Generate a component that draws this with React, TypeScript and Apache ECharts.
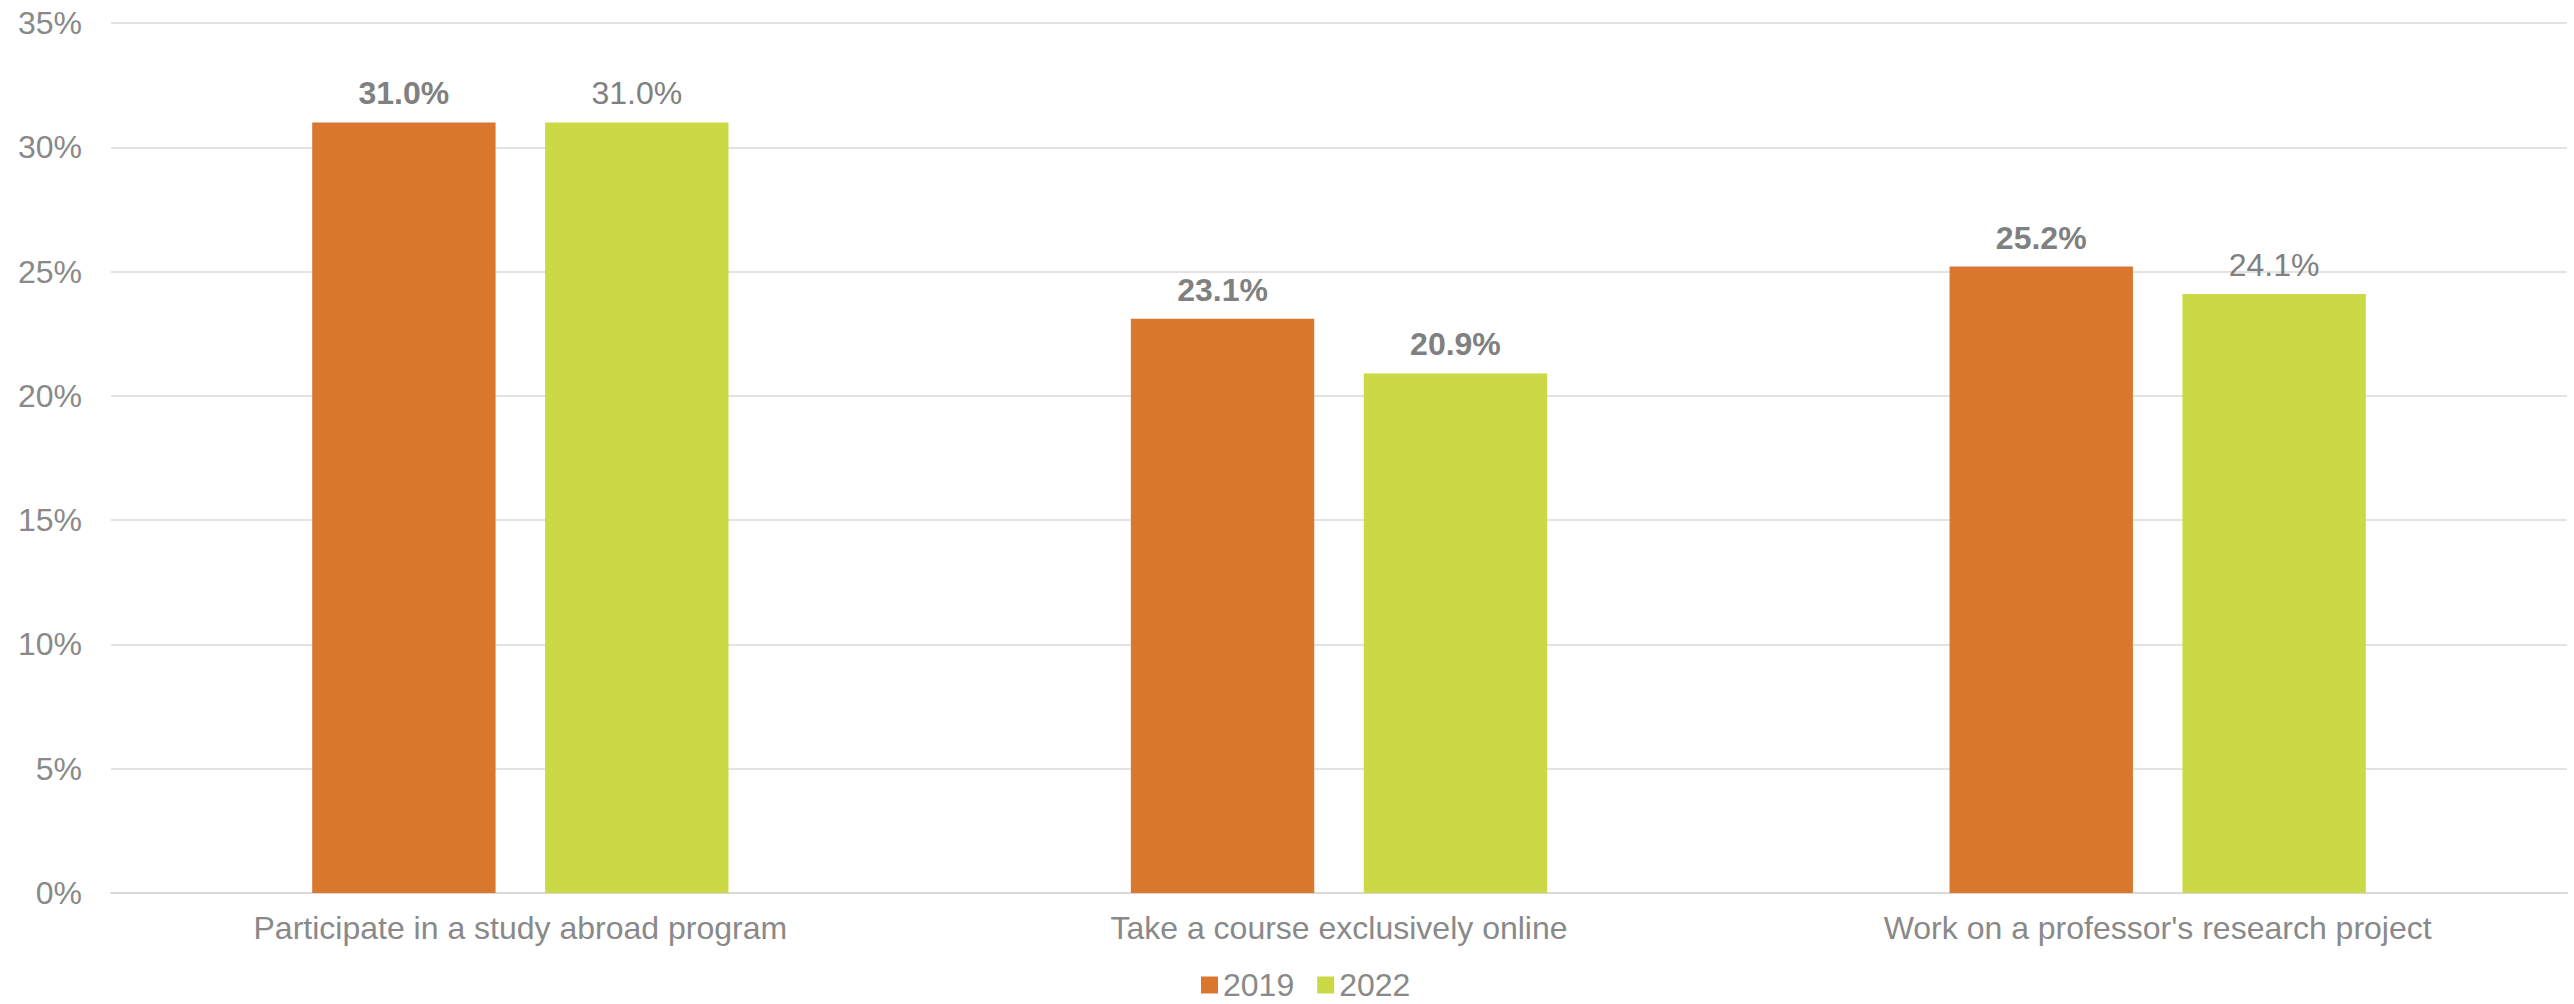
import React, { useEffect, useRef } from "react";
import * as echarts from "echarts";

const categories = [
  "Participate in a study abroad program",
  "Take a course exclusively online",
  "Work on a professor's research project",
];
const values2019 = [31.0, 23.1, 25.2];
const values2022 = [31.0, 20.9, 24.1];
const bold2019 = [true, true, true];
const bold2022 = [false, true, false];
const seriesNames = ["2019", "2022"];
const yTicks = [0, 5, 10, 15, 20, 25, 30, 35];

const FONT = "'Liberation Sans', Arial, sans-serif";
const GREY = "#898989";
const LABEL_GREY = "#808080";

export default function App() {
  const ref = useRef<HTMLDivElement>(null);
  useEffect(() => {
    document.body.style.margin = "0";
    if (!ref.current) return;
    const chart = echarts.init(ref.current, undefined, { renderer: "svg" });
    const mk = (vals: number[], bolds: boolean[]) =>
      vals.map((v, i) => ({
        value: v,
        label: { fontWeight: bolds[i] ? "bold" : "normal" },
      }));
    const labelCfg = {
      show: true,
      position: "top",
      distance: 13,
      fontSize: 32,
      fontFamily: FONT,
      color: LABEL_GREY,
      formatter: (p: any) => Number(p.value).toFixed(1) + "%",
    };
    chart.setOption({
      animation: false,
      textStyle: { fontFamily: FONT },
      grid: { left: 111, right: 7, top: 23, bottom: 111, containLabel: false },
      legend: {
        data: seriesNames,
        left: 1196,
        top: 964,
        itemWidth: 17,
        itemHeight: 17,
        itemGap: 23,
        icon: "rect",
        textStyle: { fontSize: 32, color: GREY, fontFamily: FONT },
      },
      xAxis: {
        type: "category",
        data: categories,
        axisTick: { show: false },
        axisLine: { show: true, lineStyle: { color: "#d9d9d9", width: 2 } },
        axisLabel: { fontSize: 32, color: GREY, margin: 19, fontFamily: FONT },
      },
      yAxis: {
        type: "value",
        min: yTicks[0],
        max: yTicks[yTicks.length - 1],
        interval: 5,
        axisLine: { show: false },
        axisTick: { show: false },
        splitLine: { lineStyle: { color: "#e3e3e3", width: 2 } },
        axisLabel: {
          fontSize: 32,
          color: GREY,
          margin: 29,
          fontFamily: FONT,
          formatter: (v: number) => v + "%",
        },
      },
      series: [
        {
          name: seriesNames[0],
          type: "bar",
          data: mk(values2019, bold2019),
          barWidth: "22.4%",
          barGap: "27%",
          itemStyle: { color: "#D9772E" },
          label: labelCfg,
        },
        {
          name: seriesNames[1],
          type: "bar",
          data: mk(values2022, bold2022),
          barWidth: "22.4%",
          barGap: "27%",
          itemStyle: { color: "#CBD946" },
          label: labelCfg,
        },
      ],
    });
    return () => chart.dispose();
  }, []);
  return (
    <div
      ref={ref}
      style={{ position: "fixed", left: 0, top: 0, width: 2574, height: 1004, background: "#fff" }}
    />
  );
}
